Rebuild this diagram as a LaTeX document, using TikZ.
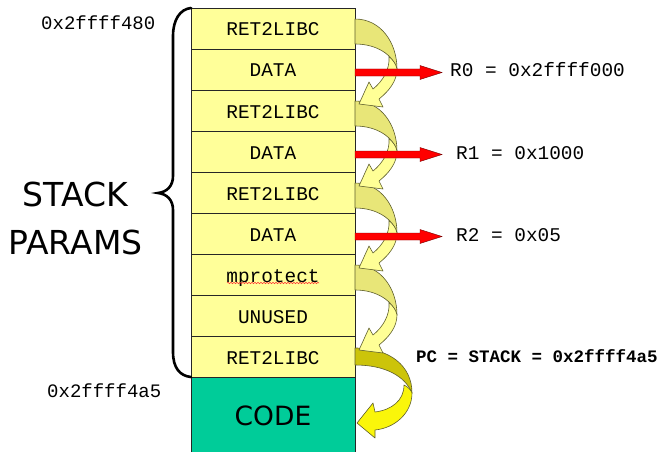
\documentclass[tikz,border=0pt]{standalone}
\usepackage{fontspec}
\setmainfont{DejaVu Sans}
\newfontfamily\monofont{Liberation Mono}
\usetikzlibrary{calc,decorations.pathmorphing}

\definecolor{cellyellow}{RGB}{255,255,153}
\definecolor{codegreen}{RGB}{0,204,153}
\definecolor{hopfront}{RGB}{255,255,150}
\definecolor{hopback}{RGB}{232,230,120}
\definecolor{jumpfront}{RGB}{250,246,10}
\definecolor{jumpback}{RGB}{204,196,10}
\definecolor{arrowedge}{RGB}{95,95,45}

\begin{document}
\begin{tikzpicture}[x=1pt,y=-1pt,
  cell/.style={draw=black!85, line width=0.8pt, fill=cellyellow,
    minimum width=164pt, minimum height=41pt, inner sep=0pt, outer sep=0pt,
    anchor=north west, text height=15pt, text depth=0pt,
    font=\monofont\fontsize{19.4}{20}\selectfont},
  codecell/.style={cell, fill=codegreen, minimum height=76pt,
    text height=20pt, font=\fontsize{26.5}{28}\selectfont},
  monolabel/.style={inner sep=0pt, anchor=base west,
    font=\monofont\fontsize{19.4}{20}\selectfont},
  addrlabel/.style={monolabel, font=\monofont\fontsize{19}{20}\selectfont},
  biglabel/.style={inner sep=0pt, anchor=base, font=\fontsize{33}{36}\selectfont},
  ribbon/.style={draw=arrowedge, line width=0.6pt, line join=round},
  % curved hop between two RET2LIBC slots: back face, then front face with head
  hop/.pic={
    \filldraw[ribbon, fill=hopback]
      (0,0) .. controls (26,0) and (42,24) .. (42,50)
      .. controls (38,36) and (22,25) .. (0,25) -- cycle;
    \filldraw[ribbon, fill=hopfront]
      (42,50) .. controls (42,62) and (34,72) .. (24,80) -- (28,88) -- (4,85)
      -- (14,63) -- (18,70) .. controls (28,62) and (35,50) .. (34,37.5)
      .. controls (38,41) and (41,45) .. (42,50) -- cycle;
  },
  % final jump into the code block
  jump/.pic={
    \filldraw[ribbon, fill=jumpback]
      (0,0) .. controls (35,0) and (57,18) .. (57,45)
      .. controls (50,28) and (30,17) .. (0,17) -- cycle;
    \filldraw[ribbon, fill=jumpfront]
      (57,45) .. controls (57,65) and (40,80) .. (20,82) -- (20,90) -- (2,75)
      -- (18,55) -- (20,64) .. controls (36,62) and (49,53) .. (49,37)
      .. controls (53,39) and (56,42) .. (57,45) -- cycle;
  },
  % register load arrow
  regarrow/.pic={
    \filldraw[fill=red, draw=red!45!black, line width=0.4pt, line join=miter]
      (0,-3.5) -- (65,-3.5) -- (65,-7) -- (87,0) -- (65,7) -- (65,3.5) -- (0,3.5) -- cycle;
  }]

\useasboundingbox (0,0) rectangle (661,452);

% stack slots
\node[cell] (r0) at (191,8)   {RET2LIBC};
\node[cell] (r1) at (191,49)  {DATA};
\node[cell] (r2) at (191,90)  {RET2LIBC};
\node[cell] (r3) at (191,131) {DATA};
\node[cell] (r4) at (191,172) {RET2LIBC};
\node[cell] (r5) at (191,213) {DATA};
\node[cell] (r6) at (191,254) {mprotect};
\node[cell] (r7) at (191,295) {UNUSED};
\node[cell] (r8) at (191,336) {RET2LIBC};
\node[codecell] (code) at (191,377) {CODE};

% spell-check squiggle under mprotect
\draw[red!80, line width=0.5pt, decorate,
  decoration={snake, amplitude=0.7pt, segment length=3pt}]
  ($(r6.center)+(-46,8.5)$) -- ($(r6.center)+(46,8.5)$);

% addresses
\node[addrlabel] (atop) at (41,30)    {0x2ffff480};
\node[addrlabel] (abot) at (47,397.5) {0x2ffff4a5};

% brace over the parameter slots
\draw[line width=2.6pt, line cap=round]
  (191,8) .. controls (180,9) and (173,20) .. (173,36) -- (173,176)
  .. controls (173,186) and (167,192) .. (158,193)
  .. controls (167,194) and (173,200) .. (173,210) -- (173,352)
  .. controls (173,368) and (180,376) .. (191,377);
\node[biglabel] (stk) at (75.5,206.7) {STACK};
\node[biglabel] (prm) at (75.5,254)   {PARAMS};

% return chain
\pic at ($(r8.north east)+(0,12)$) {jump};
\pic at ($(r6.north east)+(0,11)$) {hop};
\pic at ($(r4.north east)+(0,11)$) {hop};
\pic at ($(r2.north east)+(0,11)$) {hop};
\pic at ($(r0.north east)+(0,11)$) {hop};

% register loads
\pic at ($(r1.east)+(0,3)$) {regarrow};
\pic at ($(r3.east)+(0,3)$) {regarrow};
\pic at ($(r5.east)+(0,3)$) {regarrow};
\node[monolabel] (v0) at (450,77)  {R0 = 0x2ffff000};
\node[monolabel] (v1) at (456,159) {R1 = 0x1000};
\node[monolabel] (v2) at (456,241.5) {R2 = 0x05};
\node[monolabel, font=\monofont\bfseries\fontsize{17.5}{19}\selectfont]
  (pc) at (416,362) {PC = STACK = 0x2ffff4a5};

\end{tikzpicture}
\end{document}
